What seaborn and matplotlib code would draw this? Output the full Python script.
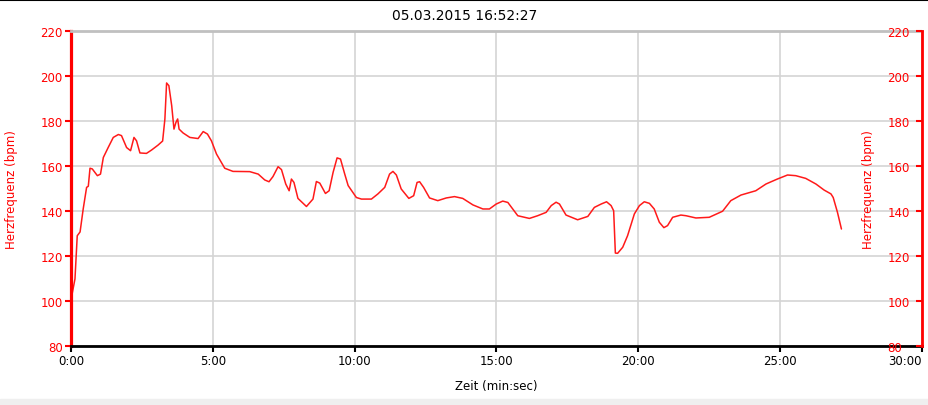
import numpy as np
import pandas as pd
import seaborn as sns
import matplotlib
matplotlib.use("Agg")
import matplotlib.pyplot as plt
from matplotlib.ticker import FuncFormatter
from matplotlib.lines import Line2D
from matplotlib.patches import Rectangle

# heart rate trace (time in minutes, bpm)
zeit_min = [0.00, 0.14, 0.22, 0.32, 0.43, 0.55, 0.61, 0.67, 0.75, 0.93, 1.04, 1.14, 1.31,
            1.49, 1.67, 1.78, 1.96, 2.10, 2.22, 2.31, 2.43, 2.66, 2.84, 3.07, 3.23, 3.31,
            3.37, 3.45, 3.55, 3.63, 3.70, 3.76, 3.81, 3.95, 4.19, 4.48, 4.66, 4.81, 4.95,
            5.13, 5.42, 5.71, 6.30, 6.60, 6.83, 6.98, 7.12, 7.30, 7.42, 7.57, 7.69, 7.77,
            7.86, 8.00, 8.30, 8.53, 8.65, 8.77, 8.97, 9.10, 9.24, 9.38, 9.50, 9.65, 9.77,
            10.06, 10.24, 10.59, 10.82, 11.06, 11.23, 11.35, 11.47, 11.64, 11.91, 12.08,
            12.20, 12.29, 12.43, 12.64, 12.93, 13.23, 13.52, 13.81, 14.17, 14.52, 14.75,
            14.99, 15.22, 15.40, 15.57, 15.75, 16.16, 16.45, 16.75, 16.93, 17.10, 17.22,
            17.45, 17.86, 18.22, 18.45, 18.69, 18.88, 19.04, 19.13, 19.19, 19.27, 19.45,
            19.62, 19.86, 20.04, 20.21, 20.39, 20.56, 20.74, 20.90, 21.03, 21.21, 21.50,
            21.68, 22.03, 22.50, 22.97, 23.26, 23.62, 24.14, 24.50, 24.90, 25.26, 25.55,
            25.90, 26.26, 26.55, 26.79, 26.87, 27.02, 27.16]
puls_bpm = [100.5, 109.8, 129.0, 130.7, 140.9, 150.5, 151.0, 159.0, 158.7, 155.7, 156.4,
            163.8, 168.2, 172.7, 174.0, 173.5, 168.2, 166.8, 172.7, 171.2, 165.8, 165.6,
            167.1, 169.3, 171.1, 180.9, 196.9, 195.7, 186.8, 176.4, 179.4, 180.9, 176.4,
            174.7, 172.7, 172.2, 175.3, 174.2, 171.2, 165.3, 159.0, 157.6, 157.5, 156.4,
            153.8, 153.0, 155.3, 159.7, 158.4, 152.0, 149.0, 154.2, 152.7, 145.6, 142.0,
            145.3, 153.1, 152.4, 147.8, 149.0, 157.2, 163.6, 163.1, 156.4, 151.3, 146.0,
            145.3, 145.3, 147.6, 150.5, 156.4, 157.6, 156.0, 149.8, 145.6, 146.8, 152.7,
            153.0, 150.5, 145.8, 144.6, 145.8, 146.4, 145.6, 142.7, 140.9, 140.9, 143.1,
            144.4, 143.8, 140.9, 137.9, 136.7, 137.9, 139.4, 142.4, 143.9, 143.1, 138.2,
            136.1, 137.6, 141.6, 143.1, 144.1, 142.4, 140.1, 121.3, 121.2, 123.9, 129.0,
            138.7, 142.4, 144.1, 143.4, 140.9, 135.0, 132.6, 133.5, 137.2, 138.2, 137.9,
            136.9, 137.2, 139.9, 144.6, 147.1, 149.0, 152.0, 154.2, 156.0, 155.7, 154.5,
            152.0, 149.3, 147.6, 146.0, 139.4, 132.0]

titel = "05.03.2015 16:52:27"
x_label = "Zeit (min:sec)"
y_label = "Herzfrequenz (bpm)"
x_ticks = [0, 5, 10, 15, 20, 25, 30]
y_ticks = [80, 100, 120, 140, 160, 180, 200, 220]

df = pd.DataFrame({"zeit": zeit_min, "puls": puls_bpm})

sns.set_theme(style="white")
plt.rcParams["font.family"] = ["DejaVu Sans"]

RED = "#ff0000"
GRID = "#d4d4d4"

fig = plt.figure(figsize=(9.29, 4.06), dpi=100)
ax = fig.add_axes([71 / 929, 1 - 347 / 406, (922 - 71) / 929, (347 - 32) / 406])

sns.lineplot(data=df, x="zeit", y="puls", ax=ax, color="#ff1a1a", linewidth=1.1)

ax.set_xlim(0, 30)
ax.set_ylim(80, 220)
ax.set_xticks(x_ticks)
ax.set_yticks(y_ticks)
ax.xaxis.set_major_formatter(FuncFormatter(lambda v, p: f"{int(v)}:{int(round((v % 1) * 60)):02d}"))
ax.grid(True, color=GRID, linewidth=1.2)
ax.set_axisbelow(True)

ax.spines["left"].set_color(RED)
ax.spines["left"].set_linewidth(2.3)
ax.spines["bottom"].set_color("black")
ax.spines["bottom"].set_linewidth(2.0)
ax.spines["top"].set_color("#c0c0c0")
ax.spines["top"].set_linewidth(2.0)
ax.spines["right"].set_visible(False)

ax.tick_params(axis="y", colors=RED, labelcolor=RED, labelsize=8.5, direction="out",
               length=4, width=1.5, pad=2, left=True)
ax.tick_params(axis="x", colors="black", labelsize=8.5, direction="out",
               length=4, width=1.5, pad=2, bottom=True)
# last time label sits flush with the right edge
ax.get_xticklabels()[-1].set_horizontalalignment("right")

ax.set_xlabel(x_label, fontsize=8.5, color="black")
ax.xaxis.set_label_coords(0.5, -0.105)
ax.set_ylabel(y_label, fontsize=8.5, color=RED)
ax.yaxis.set_label_coords(-0.062, 0.5)

# right axis, ticks and labels drawn inside the plot
ax2 = ax.twinx()
ax2.set_ylim(80, 220)
ax2.set_yticks(y_ticks)
for s in ["left", "top", "bottom"]:
    ax2.spines[s].set_visible(False)
ax2.spines["right"].set_color(RED)
ax2.spines["right"].set_linewidth(2.0)
ax2.tick_params(axis="y", colors=RED, labelcolor=RED, labelsize=8.5, direction="in",
                length=4, width=1.5, pad=-25, right=True)
ax2.grid(False)
ax2.set_ylabel(y_label, fontsize=8.5, color=RED)
ax2.yaxis.set_label_coords(0.9295, 0.5)

fig.text(0.5, 1 - 16 / 406, titel, ha="center", va="center", fontsize=10, color="black")

# window frame bits: black line on top, grey scrollbar at the bottom
fig.add_artist(Line2D([0, 1], [1 - 0.5 / 406, 1 - 0.5 / 406], color="black", linewidth=1.5))
fig.add_artist(Rectangle((0, 0), 1, 6 / 406, color="#efefef", transform=fig.transFigure))

fig.savefig("out.png", dpi=100)
